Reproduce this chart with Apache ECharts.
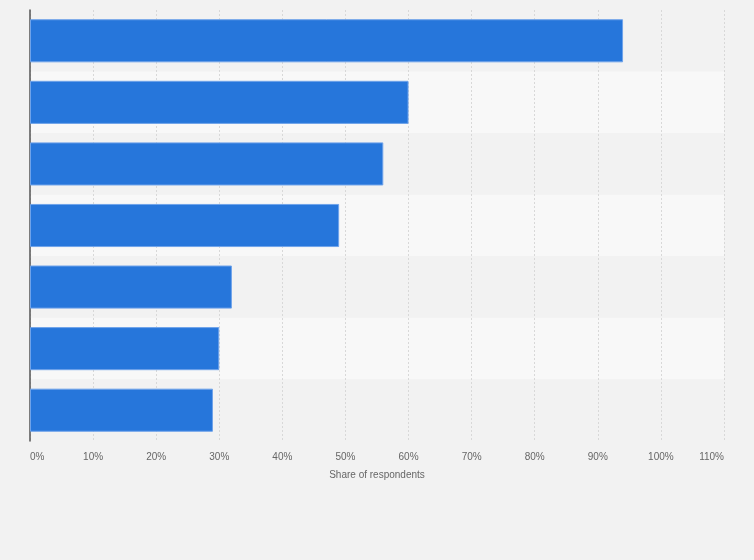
<!DOCTYPE html>
<html>
<head>
<meta charset="utf-8">
<script src="https://cdn.jsdelivr.net/npm/echarts@6/dist/echarts.min.js"></script>
<style>
  html, body { margin: 0; padding: 0; background: #f2f2f2; }
  #chart { width: 754px; height: 560px; }
</style>
</head>
<body>
<div id="chart"></div>
<script>
// 数据（类别名在原图中未显示）
var categories = ['Item 1', 'Item 2', 'Item 3', 'Item 4', 'Item 5', 'Item 6', 'Item 7']
var shares = [94, 60, 56, 49, 32, 30, 29]
var axisName = 'Share of respondents'
var xMax = 110
var xStep = 10

var myChart = echarts.init(document.getElementById('chart'))

var option = {
  backgroundColor: '#f2f2f2',
  animation: false,
  grid: {
    left: 30,
    right: 30,
    top: 10,
    bottom: 119
  },
  xAxis: {
    type: 'value',
    min: 0,
    max: xMax,
    interval: xStep,
    name: axisName,
    nameLocation: 'middle',
    nameGap: 29,
    nameTextStyle: {
      color: '#666',
      fontSize: 10,
      fontFamily: 'Arial, Liberation Sans, sans-serif'
    },
    axisLine: { show: false },
    axisTick: { show: false },
    axisLabel: {
      color: '#666',
      fontSize: 10,
      fontFamily: 'Arial, Liberation Sans, sans-serif',
      margin: 11,
      alignMinLabel: 'left',
      alignMaxLabel: 'right',
      formatter: '{value}%'
    },
    splitLine: {
      show: true,
      lineStyle: {
        color: '#d8d8d8',
        width: 1,
        type: [2, 2]
      }
    }
  },
  yAxis: {
    type: 'category',
    data: categories,
    inverse: true,
    axisLine: {
      show: true,
      lineStyle: { color: '#555', width: 1.5 }
    },
    axisTick: { show: false },
    axisLabel: { show: false },
    splitArea: {
      show: true,
      areaStyle: {
        color: ['#f2f2f2', '#f8f8f8']
      }
    }
  },
  series: [
    {
      type: 'bar',
      data: shares,
      barCategoryGap: '30%',
      itemStyle: {
        color: '#2676db',
        borderColor: '#6fa3ea',
        borderWidth: 1
      }
    }
  ]
}

myChart.setOption(option)
</script>
</body>
</html>
